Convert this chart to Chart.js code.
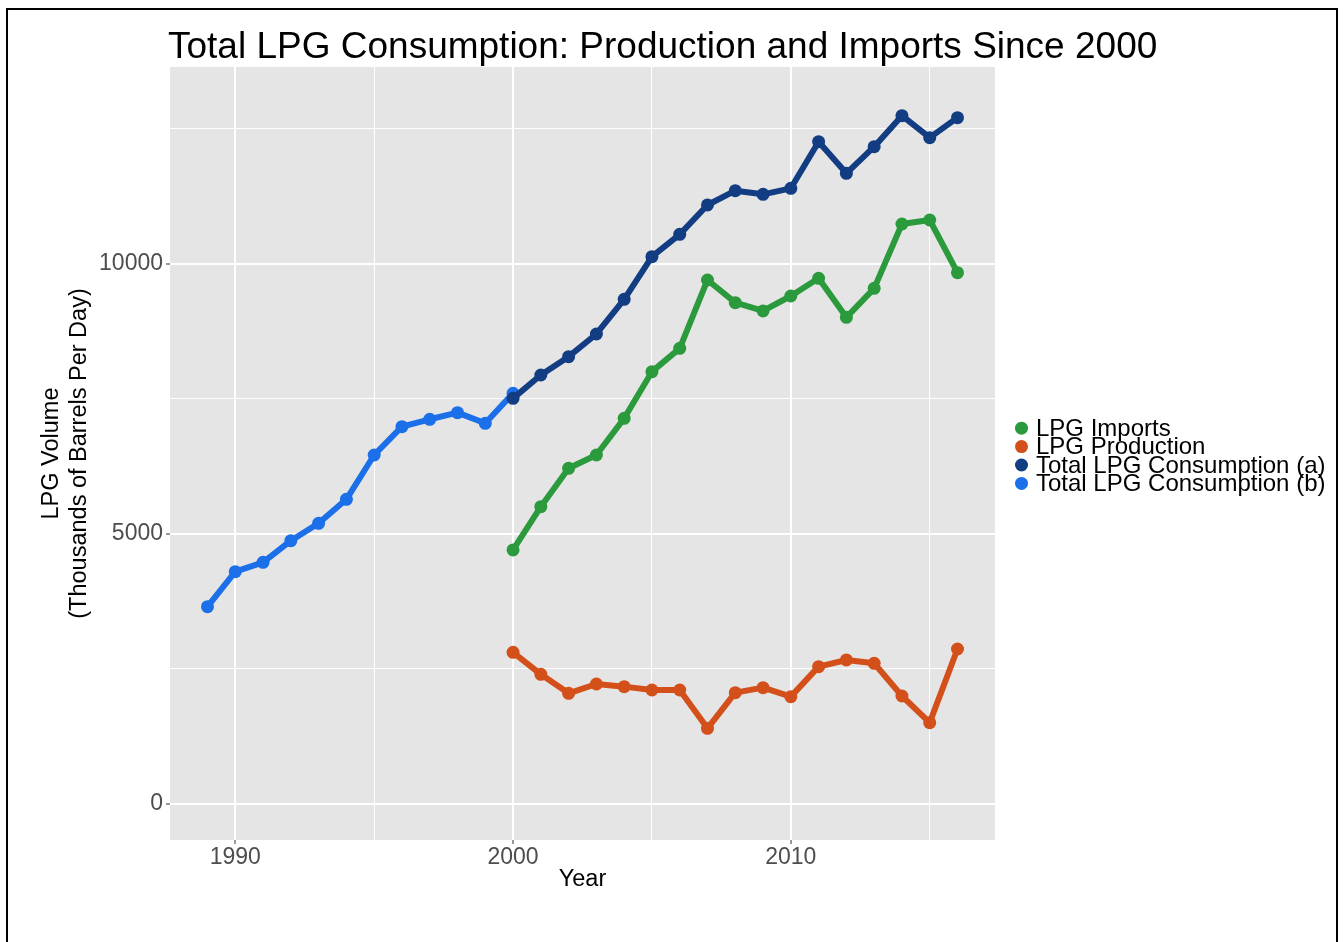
<!DOCTYPE html>
<html>
<head>
<meta charset="utf-8">
<script src="https://cdn.jsdelivr.net/npm/chart.js@4"></script>
<style>
  body { margin: 0; background: #fff; }
</style>
</head>
<body>
<canvas id="myChart" width="1344" height="942"></canvas>
<script>
const FONT = '"Liberation Sans", Arial, sans-serif'

// years on the x axis
const yearsB = [1989, 1990, 1991, 1992, 1993, 1994, 1995, 1996, 1997, 1998, 1999, 2000]
const yearsA = [2000, 2001, 2002, 2003, 2004, 2005, 2006, 2007, 2008, 2009, 2010, 2011, 2012, 2013, 2014, 2015, 2016]

// thousands of barrels per day
const lpgImports = [4704, 5506, 6216, 6463, 7142, 8006, 8438, 9704, 9284, 9130, 9407, 9735, 9012, 9549, 10741, 10815, 9840]
const lpgProduction = [2809, 2401, 2049, 2222, 2173, 2111, 2111, 1401, 2062, 2154, 1988, 2543, 2667, 2605, 2000, 1506, 2870]
const totalA = [7512, 7944, 8284, 8704, 9346, 10136, 10549, 11093, 11358, 11290, 11401, 12265, 11679, 12173, 12747, 12339, 12710]
const totalB = [3654, 4302, 4475, 4876, 5198, 5642, 6463, 6987, 7124, 7247, 7050, 7605]

const seriesNames = ['LPG Imports', 'LPG Production', 'Total LPG Consumption (a)', 'Total LPG Consumption (b)']
const seriesColors = ['#2B9A3D', '#D4501A', '#123D82', '#1B6FE8']

const xTicks = [1990, 1995, 2000, 2005, 2010, 2015]
const xLabels = [1990, 2000, 2010]
const yTicks = [0, 2500, 5000, 7500, 10000, 12500]
const yLabels = [0, 5000, 10000]

const toPoints = (xs, ys) => xs.map((x, i) => ({ x: x, y: ys[i] }))

const makeSet = (i, xs, ys) => ({
  label: seriesNames[i],
  data: toPoints(xs, ys),
  borderColor: seriesColors[i],
  backgroundColor: seriesColors[i],
  pointBackgroundColor: seriesColors[i],
  borderWidth: 6,
  borderJoinStyle: 'round',
  pointRadius: 6.5,
  pointHoverRadius: 6.5,
  pointBorderWidth: 0,
  tension: 0,
  fill: false
})

const decorations = {
  id: 'decorations',
  beforeDraw(chart) {
    const { ctx, chartArea } = chart
    ctx.save()
    ctx.fillStyle = '#fff'
    ctx.fillRect(0, 0, chart.width, chart.height)
    ctx.fillStyle = '#E5E5E5'
    ctx.fillRect(chartArea.left, chartArea.top, chartArea.right - chartArea.left, chartArea.bottom - chartArea.top)
    ctx.restore()
  },
  afterDraw(chart) {
    const { ctx } = chart
    ctx.save()
    // frame
    ctx.strokeStyle = '#000'
    ctx.lineWidth = 2
    ctx.strokeRect(7, 9, 1330, 960)
    // title
    ctx.fillStyle = '#000'
    ctx.font = '37px ' + FONT
    ctx.textBaseline = 'alphabetic'
    ctx.fillText('Total LPG Consumption: Production and Imports Since 2000', 168, 58)
    // legend
    ctx.font = '24px ' + FONT
    ctx.textBaseline = 'middle'
    chart.data.datasets.forEach((ds, i) => {
      const y = 428.2 + i * 18.4
      ctx.fillStyle = ds.borderColor
      ctx.beginPath()
      ctx.arc(1021.5, y, 6.5, 0, Math.PI * 2)
      ctx.fill()
      ctx.fillStyle = '#000'
      ctx.fillText(ds.label, 1036, y + 1)
    })
    ctx.restore()
  }
}

new Chart(document.getElementById('myChart'), {
  type: 'line',
  data: {
    datasets: [
      makeSet(0, yearsA, lpgImports),
      makeSet(1, yearsA, lpgProduction),
      makeSet(2, yearsA, totalA),
      makeSet(3, yearsB, totalB)
    ]
  },
  options: {
    responsive: false,
    animation: false,
    layout: { padding: { top: 67, right: 349, left: 0, bottom: 0 } },
    plugins: {
      legend: { display: false },
      tooltip: { enabled: false }
    },
    scales: {
      x: {
        type: 'linear',
        min: 1987.65,
        max: 2017.35,
        afterBuildTicks: s => { s.ticks = xTicks.map(v => ({ value: v })) },
        afterFit: s => { s.height = 102 },
        ticks: {
          callback: v => xLabels.includes(v) ? String(v) : '',
          color: '#4D4D4D',
          font: { size: 23, family: FONT },
          padding: 0,
          maxRotation: 0,
          autoSkip: false
        },
        grid: {
          color: '#fff',
          lineWidth: c => xLabels.includes(c.tick && c.tick.value) ? 2 : 1,
          tickLength: 4,
          tickWidth: 1,
          tickColor: c => xLabels.includes(c.tick && c.tick.value) ? '#333' : 'rgba(0,0,0,0)'
        },
        border: { display: false },
        title: {
          display: true,
          text: 'Year',
          color: '#000',
          font: { size: 23.5, family: FONT },
          padding: { top: 0, bottom: 48 }
        }
      },
      y: {
        type: 'linear',
        min: -667,
        max: 13648,
        afterBuildTicks: s => { s.ticks = yTicks.map(v => ({ value: v })) },
        afterFit: s => { s.width = 170 },
        ticks: {
          callback: v => yLabels.includes(v) ? String(v) : '',
          color: '#4D4D4D',
          font: { size: 23, family: FONT },
          padding: 3,
          autoSkip: false
        },
        grid: {
          color: '#fff',
          lineWidth: c => yLabels.includes(c.tick && c.tick.value) ? 2 : 1,
          tickLength: 4,
          tickWidth: 1,
          tickColor: c => yLabels.includes(c.tick && c.tick.value) ? '#333' : 'rgba(0,0,0,0)'
        },
        border: { display: false },
        title: {
          display: true,
          text: ['LPG Volume', '(Thousands of Barrels Per Day)'],
          color: '#000',
          font: { size: 23.5, family: FONT },
          padding: { top: 37, bottom: 0 }
        }
      }
    }
  },
  plugins: [decorations]
})
</script>
</body>
</html>
